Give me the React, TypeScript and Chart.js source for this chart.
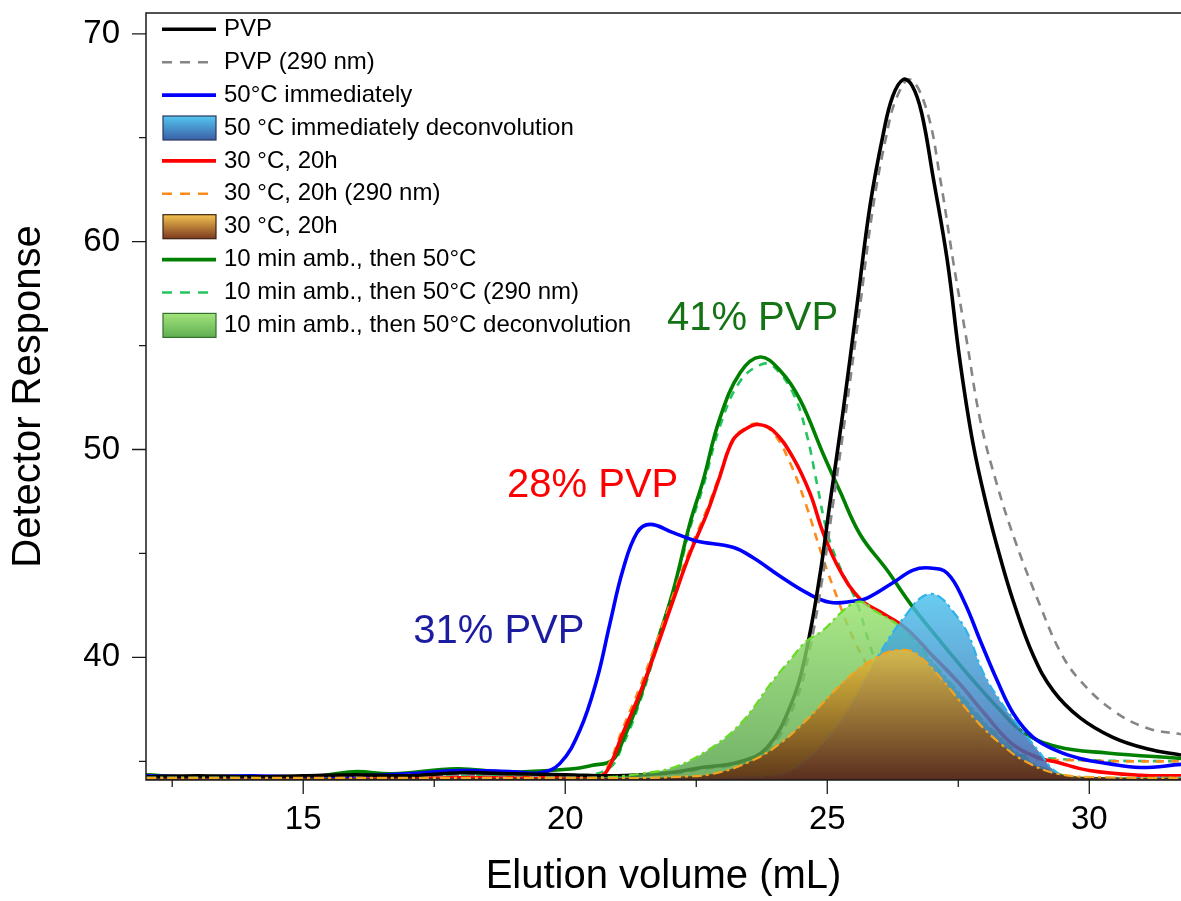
import React, { useEffect, useRef } from 'react';
import { Chart, registerables } from 'chart.js';

Chart.register(...registerables);

const FONT = '"Liberation Sans", Arial, Helvetica, sans-serif';

// Axis ranges and ticks
const X_MIN = 12;
const X_MAX = 31.75;
const Y_MIN = 34.1;
const Y_MAX = 71.0;
const xMajorTicks = [15, 20, 25, 30];
const xMinorTicks = [12.5, 17.5, 22.5, 27.5];
const yMajorTicks = [40, 50, 60, 70];
const yMinorTicks = [35, 45, 55, 65];
const xTitle = 'Elution volume (mL)';
const yTitle = 'Detector Response';

// PVP (black)
const pvpX = [12, 13, 14, 15, 16, 17, 18, 19, 20, 21, 22, 22.6, 23.3, 23.85, 24.35, 24.6, 24.85, 25.05, 25.3, 25.57, 25.82, 26.07, 26.25, 26.45, 26.62, 26.8, 27.02, 27.29, 27.53, 27.78, 28.05, 28.3, 28.55, 28.93, 29.31, 29.82, 30.45, 31.1, 31.75];
const pvpY = [34.25, 34.3, 34.25, 34.3, 34.35, 34.3, 34.45, 34.4, 34.35, 34.3, 34.45, 34.7, 34.95, 35.65, 38.0, 40.3, 43.8, 47.4, 51.8, 57.0, 61.8, 65.2, 67.0, 67.8, 67.5, 66.2, 63.1, 59.1, 54.3, 50.3, 47.2, 44.8, 42.7, 40.1, 38.4, 37.1, 36.15, 35.6, 35.3];

// PVP (290 nm) (grey dashed)
const pvp290X = [12, 14, 16, 18, 20, 22, 22.65, 23.35, 23.9, 24.4, 24.65, 24.9, 25.1, 25.35, 25.62, 25.87, 26.12, 26.32, 26.58, 26.9, 27.15, 27.4, 27.67, 27.92, 28.24, 28.6, 29.06, 29.44, 29.82, 30.45, 31.1, 31.75];
const pvp290Y = [34.2, 34.25, 34.3, 34.35, 34.3, 34.4, 34.65, 34.9, 35.6, 37.9, 40.2, 43.7, 47.2, 51.7, 56.8, 61.6, 65.0, 66.9, 67.8, 66.3, 63.1, 59.1, 55.1, 51.4, 48.3, 45.5, 42.5, 40.3, 38.9, 37.45, 36.6, 36.3];

// 50 °C immediately (blue)
const hot50X = [12, 13, 14, 15, 16, 17, 18, 19, 19.52, 19.9, 20.28, 20.6, 20.85, 21.1, 21.37, 21.62, 22.06, 22.5, 23.2, 23.58, 24.1, 24.61, 25.05, 25.5, 25.76, 26.26, 26.64, 26.96, 27.29, 27.6, 27.92, 28.24, 28.55, 28.93, 29.39, 29.82, 30.34, 30.97, 31.75];
const hot50Y = [34.3, 34.25, 34.3, 34.25, 34.3, 34.4, 34.55, 34.5, 34.45, 34.9, 36.5, 38.9, 41.6, 44.2, 46.0, 46.4, 46.0, 45.6, 45.3, 44.8, 43.9, 43.1, 42.65, 42.7, 42.85, 43.6, 44.2, 44.3, 44.05, 42.75, 40.8, 38.9, 37.3, 36.15, 35.5, 35.14, 34.9, 34.7, 34.85];

// 50 °C immediately deconvolution (blue fill)
const hot50DecX = [12, 20, 24.0, 24.5, 25.0, 25.4, 25.8, 26.2, 26.52, 26.75, 26.96, 27.15, 27.34, 27.67, 27.97, 28.3, 28.68, 29.06, 29.31, 29.6, 30.0, 31.75];
const hot50DecY = [34.2, 34.2, 34.3, 34.9, 36.1, 37.5, 39.3, 41.0, 42.1, 42.8, 43.05, 42.9, 42.4, 41.2, 39.3, 37.9, 36.6, 35.4, 34.6, 34.25, 34.2, 34.2];

// 30 °C, 20h (red)
const warm30X = [12, 14, 16, 18, 20, 20.6, 20.8, 21.1, 21.43, 21.75, 22.06, 22.38, 22.7, 22.95, 23.2, 23.45, 23.68, 23.97, 24.35, 24.67, 24.92, 25.24, 25.63, 26.0, 26.5, 27.0, 27.5, 28.0, 28.5, 29.0, 29.39, 30.0, 30.97, 31.75];
const warm30Y = [34.15, 34.2, 34.15, 34.2, 34.2, 34.2, 34.55, 36.35, 38.3, 40.5, 42.75, 45.0, 46.9, 48.7, 50.45, 51.0, 51.2, 50.9, 49.6, 47.9, 46.0, 44.2, 42.8, 42.2, 41.4, 40.1, 38.8, 37.3, 35.9, 35.2, 34.95, 34.56, 34.33, 34.3];

// 30 °C, 20h (290 nm) (orange dashed)
const warm30uvX = [12, 14, 16, 18, 20, 20.6, 20.8, 21.1, 21.43, 21.75, 22.06, 22.38, 22.7, 22.95, 23.2, 23.45, 23.68, 23.97, 24.3, 24.6, 24.9, 25.2, 25.5, 25.9, 26.4, 27.0, 27.6, 28.3, 29.0, 29.7, 30.5, 31.75];
const warm30uvY = [34.15, 34.2, 34.15, 34.2, 34.2, 34.25, 34.7, 36.6, 38.6, 40.8, 43.0, 45.2, 47.1, 48.8, 50.5, 51.05, 51.25, 50.8, 49.3, 47.3, 44.9, 42.8, 40.9, 39.1, 37.6, 36.4, 35.7, 35.3, 35.1, 35.05, 35.0, 35.0];

// 30 °C, 20h deconvolution (brown fill)
const warm30DecX = [12, 20.5, 21.5, 22.1, 22.82, 23.58, 24.1, 24.61, 25.1, 25.57, 25.87, 26.1, 26.33, 26.6, 26.83, 27.15, 27.53, 27.9, 28.3, 28.74, 29.39, 30.34, 31.75];
const warm30DecY = [34.2, 34.2, 34.2, 34.25, 34.4, 35.05, 35.86, 37.0, 38.3, 39.4, 39.9, 40.2, 40.35, 40.3, 39.9, 39.05, 37.9, 36.8, 35.86, 35.05, 34.4, 34.23, 34.2];

// 10 min amb., then 50 °C (green)
const ambX = [12, 12.8, 13.8, 15.07, 15.96, 16.7, 17.93, 18.88, 20.15, 20.5, 20.9, 21.1, 21.43, 21.75, 22.06, 22.38, 22.63, 22.95, 23.34, 23.72, 24.1, 24.48, 24.92, 25.24, 25.63, 26.14, 26.58, 27.15, 27.78, 28.3, 28.74, 29.39, 30.34, 31.75];
const ambY = [34.35, 34.25, 34.28, 34.22, 34.5, 34.4, 34.64, 34.48, 34.64, 34.8, 35.05, 36.0, 38.1, 40.7, 43.2, 46.45, 48.5, 51.5, 53.7, 54.45, 53.8, 52.4, 49.8, 48.0, 45.9, 44.2, 42.6, 40.8, 38.9, 37.45, 36.4, 35.7, 35.4, 35.14];

// 10 min amb., then 50 °C (290 nm) (green dashed)
const ambUvX = [12, 14, 16, 18, 20, 20.8, 21.1, 21.43, 21.75, 22.06, 22.38, 22.63, 22.95, 23.34, 23.75, 23.97, 24.35, 24.6, 24.8, 25.0, 25.24, 25.57, 25.8, 26.0, 26.5, 27.0, 28.0, 29.0, 30.0, 31.75];
const ambUvY = [34.2, 34.25, 34.3, 34.3, 34.3, 34.6, 35.8, 37.9, 40.5, 43.0, 46.2, 48.2, 51.1, 53.3, 54.1, 54.0, 52.7, 50.8, 48.4, 46.0, 44.35, 42.6, 40.7, 39.4, 37.7, 36.6, 35.6, 35.2, 35.05, 35.0];

// 10 min amb., then 50 °C deconvolution (green fill)
const ambDecX = [12, 20.0, 20.9, 21.43, 22.06, 22.7, 23.34, 23.97, 24.3, 24.61, 24.92, 25.24, 25.5, 25.7, 25.87, 26.33, 26.71, 27.1, 27.48, 27.92, 28.3, 28.74, 29.2, 29.7, 30.5, 31.75];
const ambDecY = [34.2, 34.2, 34.25, 34.4, 34.7, 35.5, 36.8, 38.9, 39.9, 40.8, 41.3, 42.1, 42.6, 42.65, 42.3, 41.6, 40.7, 39.5, 38.4, 37.1, 36.15, 35.2, 34.6, 34.25, 34.2, 34.2];

// Legend labels (same order as datasets)
const legendLabels = [
  'PVP',
  'PVP (290 nm)',
  '50°C immediately',
  '50 °C immediately deconvolution',
  '30 °C, 20h',
  '30 °C, 20h (290 nm)',
  '30 °C, 20h',
  '10 min amb., then 50°C',
  '10 min amb., then 50°C (290 nm)',
  '10 min amb., then 50°C deconvolution',
];

// Annotations
const annotTexts = ['41% PVP', '28% PVP', '31% PVP'];
const annotX = [21.94, 18.89, 17.1];
const annotY = [55.75, 47.71, 40.68];
const annotColors = ['#147314', '#ff0000', '#1c1ca0'];

const toPoints = (xs: number[], ys: number[]) => xs.map((x, i) => ({ x, y: ys[i] }));

type GradSpec = { top: string; bottom: string; legendTop: string; legendBottom: string; legendBorder: string };

const gradBlue: GradSpec = { top: 'rgba(72,192,236,0.82)', bottom: 'rgba(58,92,168,0.85)', legendTop: '#55c6f0', legendBottom: '#3a5fa6', legendBorder: '#2a3560' };
const gradBrown: GradSpec = { top: 'rgba(242,186,48,0.8)', bottom: 'rgba(92,38,14,0.88)', legendTop: '#f3c350', legendBottom: '#7d3a20', legendBorder: '#3d2210' };
const gradGreen: GradSpec = { top: 'rgba(150,226,108,0.82)', bottom: 'rgba(82,160,70,0.82)', legendTop: '#a3e47c', legendBottom: '#5fae52', legendBorder: '#33702a' };

function lineDs(xs: number[], ys: number[], color: string, width: number, dash: number[]) {
  return {
    type: 'line' as const,
    data: toPoints(xs, ys),
    borderColor: color,
    borderWidth: width,
    borderDash: dash,
    pointRadius: 0,
    fill: false,
    tension: 0.4,
    order: 10,
  };
}

function fillDs(xs: number[], ys: number[], edge: string, grad: GradSpec, order: number) {
  const peak = Math.max(...ys);
  return {
    type: 'line' as const,
    data: toPoints(xs, ys),
    borderColor: edge,
    borderWidth: 2.2,
    borderDash: [10, 4, 3, 4],
    pointRadius: 0,
    fill: 'start',
    tension: 0.4,
    order,
    backgroundColor: (ctx: any) => {
      const chart = ctx.chart;
      const area = chart.chartArea;
      if (!area) return grad.top;
      const topPx = chart.scales.y.getPixelForValue(peak);
      const g = chart.ctx.createLinearGradient(0, topPx, 0, area.bottom);
      g.addColorStop(0, grad.top);
      g.addColorStop(1, grad.bottom);
      return g;
    },
    _grad: grad,
  };
}

const overlayPlugin = {
  id: 'overlay',
  afterDraw(chart: any) {
    const { ctx, chartArea, scales } = chart;
    const { left, right, top, bottom } = chartArea;
    ctx.save();
    // frame
    ctx.strokeStyle = '#1a1a1a';
    ctx.lineWidth = 1.5;
    ctx.beginPath();
    ctx.moveTo(right + 2, top);
    ctx.lineTo(left, top);
    ctx.lineTo(left, bottom);
    ctx.lineTo(right + 2, bottom);
    ctx.stroke();
    // ticks
    ctx.lineWidth = 1.3;
    ctx.beginPath();
    xMajorTicks.forEach((v) => { const p = scales.x.getPixelForValue(v); ctx.moveTo(p, bottom); ctx.lineTo(p, bottom + 14); });
    xMinorTicks.forEach((v) => { const p = scales.x.getPixelForValue(v); ctx.moveTo(p, bottom); ctx.lineTo(p, bottom + 7); });
    yMajorTicks.forEach((v) => { const p = scales.y.getPixelForValue(v); ctx.moveTo(left, p); ctx.lineTo(left - 14, p); });
    yMinorTicks.forEach((v) => { const p = scales.y.getPixelForValue(v); ctx.moveTo(left, p); ctx.lineTo(left - 7, p); });
    ctx.stroke();

    // legend
    const datasets = chart.data.datasets;
    const rowY0 = top + 16.3;
    const rowH = 32.9;
    const lx0 = left + 16;
    const lx1 = left + 70;
    ctx.font = `24px ${FONT}`;
    ctx.textBaseline = 'middle';
    ctx.textAlign = 'left';
    legendLabels.forEach((label, i) => {
      const ds = datasets[i];
      const y = rowY0 + i * rowH;
      if (ds._grad) {
        const gs: GradSpec = ds._grad;
        const g = ctx.createLinearGradient(0, y - 12, 0, y + 12);
        g.addColorStop(0, gs.legendTop);
        g.addColorStop(1, gs.legendBottom);
        ctx.fillStyle = g;
        ctx.fillRect(lx0 + 1, y - 12, lx1 - lx0 - 1, 24);
        ctx.strokeStyle = gs.legendBorder;
        ctx.lineWidth = 1.2;
        ctx.setLineDash([]);
        ctx.strokeRect(lx0 + 1, y - 12, lx1 - lx0 - 1, 24);
      } else {
        ctx.strokeStyle = ds.borderColor;
        ctx.lineWidth = ds.borderWidth;
        ctx.setLineDash(ds.borderDash && ds.borderDash.length ? [10, 8] : []);
        ctx.beginPath();
        ctx.moveTo(lx0, y);
        ctx.lineTo(lx1, y);
        ctx.stroke();
        ctx.setLineDash([]);
      }
      ctx.fillStyle = '#000';
      ctx.fillText(label, lx1 + 8, y);
    });

    // annotations
    ctx.font = `40px ${FONT}`;
    ctx.textBaseline = 'alphabetic';
    annotTexts.forEach((t, i) => {
      ctx.fillStyle = annotColors[i];
      ctx.fillText(t, scales.x.getPixelForValue(annotX[i]), scales.y.getPixelForValue(annotY[i]));
    });
    ctx.restore();
  },
};

export default function App() {
  const ref = useRef<HTMLCanvasElement>(null);
  useEffect(() => {
    const canvas = ref.current;
    if (!canvas) return;
    const datasets: any[] = [
      lineDs(pvpX, pvpY, '#000000', 3.6, []),
      lineDs(pvp290X, pvp290Y, '#858585', 2.6, [9, 7]),
      lineDs(hot50X, hot50Y, '#0000ff', 3.6, []),
      fillDs(hot50DecX, hot50DecY, '#2eb4ea', gradBlue, 2),
      lineDs(warm30X, warm30Y, '#ff0000', 3.6, []),
      lineDs(warm30uvX, warm30uvY, '#ff8a1c', 2.6, [8, 7]),
      fillDs(warm30DecX, warm30DecY, '#f2a41e', gradBrown, 1),
      lineDs(ambX, ambY, '#008000', 3.6, []),
      lineDs(ambUvX, ambUvY, '#22c55e', 2.6, [8, 7]),
      fillDs(ambDecX, ambDecY, '#66dd22', gradGreen, 3),
    ];
    const chart = new Chart(canvas, {
      type: 'line',
      data: { datasets },
      options: {
        responsive: false,
        animation: false,
        devicePixelRatio: 1,
        layout: { padding: { top: 13, right: 0, bottom: 0, left: 0 } },
        plugins: {
          legend: { display: false },
          tooltip: { enabled: false },
          filler: { drawTime: 'beforeDatasetDraw' },
        },
        scales: {
          x: {
            type: 'linear',
            min: X_MIN,
            max: X_MAX,
            afterBuildTicks: (s: any) => {
              s.ticks = [...xMinorTicks, ...xMajorTicks].sort((a, b) => a - b).map((v) => ({ value: v }));
            },
            afterFit: (s: any) => {
              s.height = 121;
              s.paddingLeft = 0;
              s.paddingRight = 0;
            },
            ticks: {
              autoSkip: false,
              maxRotation: 0,
              padding: 20,
              color: '#000',
              font: { size: 33, family: FONT },
              callback: (v: any) => (xMajorTicks.includes(Number(v)) ? String(v) : ''),
            },
            grid: { display: false, drawTicks: false },
            border: { display: false },
            title: { display: true, text: xTitle, color: '#000', font: { size: 40, family: FONT }, padding: { top: 0, bottom: 0 } },
          },
          y: {
            type: 'linear',
            min: Y_MIN,
            max: Y_MAX,
            afterBuildTicks: (s: any) => {
              s.ticks = [...yMinorTicks, ...yMajorTicks].sort((a, b) => a - b).map((v) => ({ value: v }));
            },
            afterFit: (s: any) => {
              s.width = 146;
              s.paddingTop = 0;
              s.paddingBottom = 0;
            },
            ticks: {
              autoSkip: false,
              padding: 26,
              color: '#000',
              font: { size: 33, family: FONT },
              callback: (v: any) => (yMajorTicks.includes(Number(v)) ? String(v) : ''),
            },
            grid: { display: false, drawTicks: false },
            border: { display: false },
            title: { display: true, text: yTitle, color: '#000', font: { size: 40, family: FONT }, padding: { top: 5, bottom: 0 } },
          },
        },
      } as any,
      plugins: [overlayPlugin],
    });
    return () => chart.destroy();
  }, []);
  return (
    <div style={{ position: 'fixed', left: 0, top: 0, width: 1181, height: 901, overflow: 'hidden', background: '#fff' }}>
      <canvas ref={ref} width={1181} height={901} style={{ display: 'block', width: 1181, height: 901 }} />
    </div>
  );
}
